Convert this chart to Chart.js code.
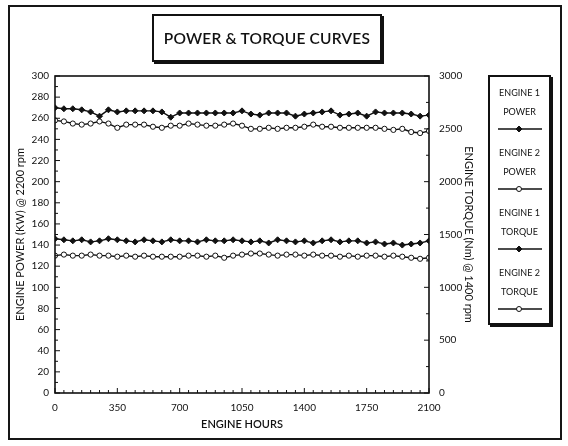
<!DOCTYPE html>
<html>
<head>
<meta charset="utf-8">
<script src="https://cdn.jsdelivr.net/npm/chart.js@4.4.1/dist/chart.umd.min.js"></script>
<style>
    body { margin: 0; background: #fff; font-family: Lato, sans-serif; color: #111; }
    #wrap { position: relative; width: 568px; height: 446px; }
    #wrap canvas { position: absolute; left: 0; top: 0; }
    .frame { position: absolute; left: 8px; top: 5px; width: 550px; height: 431px; border: 2px solid #161616; }
    .title-box {
        position: absolute; left: 152px; top: 14px; width: 226px; height: 44px;
        border: 2px solid #111; box-shadow: 2px 2px 0 #111; background: #fff;
        display: flex; align-items: center; justify-content: center;
        font-size: 15.5px; font-weight: 600; letter-spacing: 0.2px;
    }
    .legend { position: absolute; left: 488px; top: 75px; width: 59px; height: 246px; border: 2px solid #111; box-shadow: 2px 2px 0 #111; }
    .legend .item { position: absolute; left: 0; width: 59px; text-align: center; font-size: 9px; line-height: 19px; }
    .legend svg { display: block; margin: 0 auto; }
</style>
</head>
<body>
<div id="wrap">
    <canvas id="chart" width="568" height="446"></canvas>
    <div class="frame"></div>
    <div class="title-box">POWER &amp; TORQUE CURVES</div>
    <div class="legend" id="legend"></div>
</div>
<script>
// Engine hours (x)
const hours = [0, 50, 100, 150, 200, 250, 300, 350, 400, 450,
    500, 550, 600, 650, 700, 750, 800, 850, 900, 950,
    1000, 1050, 1100, 1150, 1200, 1250, 1300, 1350, 1400, 1450,
    1500, 1550, 1600, 1650, 1700, 1750, 1800, 1850, 1900, 1950,
    2000, 2050, 2100];

// Power, kW (left axis)
const engine1Power = [270, 269, 269, 268, 266, 262, 268, 266, 267, 267,
    267, 267, 266, 261, 265, 265, 265, 265, 265, 265,
    265, 267, 264, 263, 265, 265, 265, 262, 264, 265,
    266, 267, 263, 264, 265, 262, 266, 265, 265, 265,
    264, 262, 263];
const engine2Power = [258, 257, 255, 254, 255, 257, 255, 251, 254, 254,
    254, 252, 251, 253, 253, 255, 254, 253, 253, 254,
    255, 253, 250, 250, 251, 250, 251, 251, 252, 254,
    252, 252, 251, 251, 251, 251, 251, 250, 249, 250,
    247, 246, 248];

// Torque, Nm (right axis)
const engine1Torque = [1460, 1450, 1440, 1450, 1430, 1440, 1460, 1450, 1440, 1430,
    1450, 1440, 1430, 1450, 1440, 1440, 1430, 1450, 1440, 1440,
    1450, 1440, 1430, 1440, 1420, 1450, 1440, 1430, 1440, 1420,
    1440, 1450, 1430, 1440, 1440, 1420, 1430, 1410, 1420, 1400,
    1410, 1420, 1440];
const engine2Torque = [1300, 1310, 1300, 1300, 1310, 1300, 1300, 1290, 1300, 1290,
    1300, 1290, 1290, 1290, 1290, 1300, 1300, 1290, 1300, 1280,
    1300, 1310, 1320, 1320, 1310, 1300, 1310, 1310, 1300, 1310,
    1300, 1300, 1290, 1300, 1290, 1300, 1300, 1290, 1300, 1290,
    1280, 1270, 1280];

const seriesNames = [['ENGINE 1', 'POWER'], ['ENGINE 2', 'POWER'], ['ENGINE 1', 'TORQUE'], ['ENGINE 2', 'TORQUE']];

const INK = '#111';
Chart.defaults.font.family = "Lato, 'DejaVu Sans', sans-serif";
Chart.defaults.color = INK;

const toPoints = (vals) => hours.map((h, i) => ({ x: h, y: vals[i] }));
const plain = (v) => String(v);

function makeSet(name, vals, axis, filled) {
    return {
        label: name,
        data: toPoints(vals),
        yAxisID: axis,
        borderColor: INK,
        borderWidth: 1.4,
        pointStyle: filled ? 'rectRot' : 'circle',
        pointRadius: filled ? 3 : 2.6,
        pointBackgroundColor: filled ? INK : '#fff',
        pointBorderColor: INK,
        pointBorderWidth: 1,
        tension: 0
    };
}

// axis box + inward tick marks
const innerTicks = {
    id: 'innerTicks',
    afterDraw(chart) {
        const { ctx, chartArea: a, scales } = chart;
        const seg = (x1, y1, x2, y2) => { ctx.beginPath(); ctx.moveTo(x1, y1); ctx.lineTo(x2, y2); ctx.stroke(); };
        ctx.save();
        ctx.strokeStyle = INK;
        ctx.lineWidth = 1.6;
        ctx.strokeRect(a.left, a.top, a.right - a.left, a.bottom - a.top);
        ctx.lineWidth = 1;
        for (let v = 0; v <= 300; v += 10) {
            const y = scales.y.getPixelForValue(v);
            seg(a.left, y, a.left + (v % 20 === 0 ? 5 : 3), y);
        }
        for (let v = 0; v <= 3000; v += 250) {
            const y = scales.y1.getPixelForValue(v);
            seg(a.right, y, a.right - (v % 500 === 0 ? 5 : 3), y);
        }
        for (let v = 0; v <= 2100; v += 50) {
            const x = scales.x.getPixelForValue(v);
            seg(x, a.bottom, x, a.bottom - (v % 350 === 0 ? 5 : 3));
        }
        ctx.restore();
    }
};

const noGrid = { display: false, drawTicks: false };

const chart = new Chart(document.getElementById('chart'), {
    type: 'line',
    data: {
        datasets: [
            makeSet('Engine 1 Power', engine1Power, 'y', true),
            makeSet('Engine 2 Power', engine2Power, 'y', false),
            makeSet('Engine 1 Torque', engine1Torque, 'y1', true),
            makeSet('Engine 2 Torque', engine2Torque, 'y1', false)
        ]
    },
    options: {
        responsive: false,
        animation: false,
        layout: { padding: { top: 76, right: 89, bottom: 10, left: 0 } },
        plugins: { legend: { display: false }, tooltip: { enabled: false } },
        scales: {
            x: {
                type: 'linear', min: 0, max: 2100,
                grid: noGrid, border: { display: false },
                ticks: { stepSize: 350, autoSkip: false, maxRotation: 0, padding: 9, font: { size: 10 }, callback: plain },
                title: { display: true, text: 'ENGINE HOURS', font: { size: 11, weight: '600' }, padding: { top: 2, bottom: 5 } },
                afterFit: (s) => { s.height = 43; }
            },
            y: {
                position: 'left', min: 0, max: 300,
                grid: noGrid, border: { display: false },
                ticks: { stepSize: 20, autoSkip: false, padding: 6, font: { size: 10 }, callback: plain },
                title: { display: true, text: 'ENGINE POWER (KW) @ 2200 rpm', font: { size: 11 }, padding: { top: 14, bottom: 0 } },
                afterFit: (s) => { s.width = 55; }
            },
            y1: {
                position: 'right', min: 0, max: 3000,
                grid: noGrid, border: { display: false },
                ticks: { stepSize: 500, autoSkip: false, padding: 10, font: { size: 10 }, callback: plain },
                title: { display: true, text: 'ENGINE TORQUE (Nm) @ 1400 rpm', font: { size: 11 }, padding: { top: 4, bottom: 0 } },
                afterFit: (s) => { s.width = 50; }
            }
        }
    },
    plugins: [innerTicks]
});

// legend box
const legendEl = document.getElementById('legend');
chart.data.datasets.forEach((ds, i) => {
    const item = document.createElement('div');
    item.className = 'item';
    item.style.top = (6 + i * 60) + 'px';
    const marker = ds.pointStyle === 'rectRot'
        ? '<polygon points="22,-3 25,0 22,3 19,0" transform="translate(0,4)" fill="#111" stroke="#111"/>'
        : '<circle cx="22" cy="4" r="2.5" fill="#fff" stroke="#111"/>';
    item.innerHTML = seriesNames[i][0] + '<br>' + seriesNames[i][1] +
        '<svg width="46" height="8" style="margin-top:4px"><line x1="1" y1="4" x2="45" y2="4" stroke="#111" stroke-width="1.4"/>' + marker + '</svg>';
    legendEl.appendChild(item);
});
</script>
</body>
</html>
